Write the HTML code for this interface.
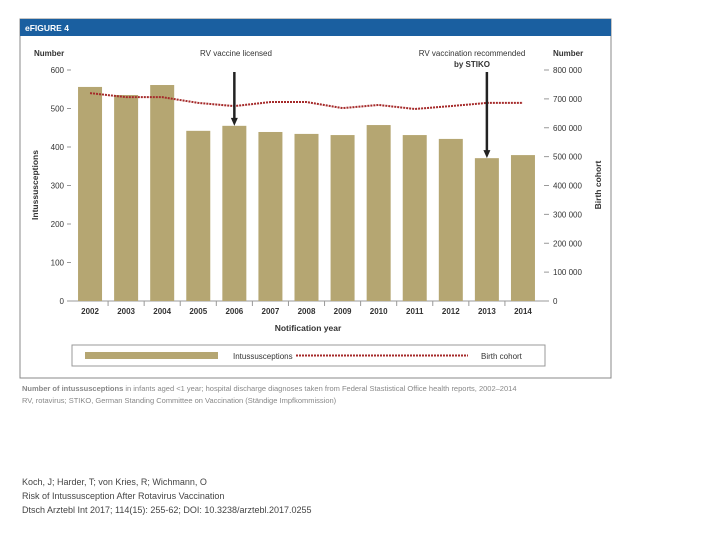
<!DOCTYPE html>
<html><head><meta charset="utf-8"><style>
body{margin:0;background:#fff;width:720px;height:540px;overflow:hidden;font-family:"Liberation Sans",sans-serif}
.cite{position:absolute;left:22px;font-size:9px;color:#444;font-family:"Liberation Sans",sans-serif}
</style></head><body>
<svg width="720" height="540" style="position:absolute;left:0;top:0">
<rect x="20" y="19" width="591" height="359" fill="#fff" stroke="#888"/>
<rect x="20" y="19" width="591" height="17" fill="#1a5fa0"/>
<text x="25" y="31" font-size="8.5" font-weight="bold" fill="#fff">eFIGURE 4</text>
<g id="chart"></g>
<text x="34" y="56" font-size="8" font-weight="bold" fill="#333">Number</text>
<text x="553" y="56" font-size="8" font-weight="bold" fill="#333">Number</text>
<text x="236" y="56" font-size="8" fill="#333" text-anchor="middle">RV vaccine licensed</text>
<text x="472" y="56" font-size="8" fill="#333" text-anchor="middle">RV vaccination recommended</text>
<text x="472" y="67" font-size="8" font-weight="bold" fill="#333" text-anchor="middle">by STIKO</text>
<text x="38" y="185" font-size="8.5" font-weight="bold" fill="#333" text-anchor="middle" transform="rotate(-90 38 185)">Intussusceptions</text>
<text x="601" y="185" font-size="8.5" font-weight="bold" fill="#333" text-anchor="middle" transform="rotate(-90 601 185)">Birth cohort</text>
<text x="308" y="331" font-size="8.5" font-weight="bold" fill="#333" text-anchor="middle">Notification year</text>
<rect x="72" y="345" width="473" height="21" fill="#fff" stroke="#999"/>
<rect x="85" y="352" width="133" height="7" fill="#b5a672"/>
<text x="233" y="359" font-size="8" fill="#333">Intussusceptions</text>
<line x1="296" y1="355.5" x2="468" y2="355.5" stroke="#a52a2a" stroke-width="2" stroke-dasharray="2,1"/>
<text x="481" y="359" font-size="8" fill="#333">Birth cohort</text>
<text x="22" y="391" font-size="7.5" fill="#888"><tspan font-weight="bold">Number of intussusceptions</tspan> in infants aged &lt;1 year; hospital discharge diagnoses taken from Federal Stastistical Office health reports, 2002–2014</text>
<text x="22" y="403" font-size="7.5" fill="#888">RV, rotavirus; STIKO, German Standing Committee on Vaccination (Ständige Impfkommission)</text>
</svg>
<div class="cite" style="top:477px">Koch, J; Harder, T; von Kries, R; Wichmann, O</div>
<div class="cite" style="top:491px">Risk of Intussusception After Rotavirus Vaccination</div>
<div class="cite" style="top:505px">Dtsch Arztebl Int 2017; 114(15): 255-62; DOI: 10.3238/arztebl.2017.0255</div>
<script>
const years=["2002","2003","2004","2005","2006","2007","2008","2009","2010","2011","2012","2013","2014"];
const intussusceptions=[556,535,561,442,455,439,434,431,457,431,421,371,379];
const birthCohort=[720000,706000,706000,686000,675000,689000,689000,668000,679000,665000,675000,686000,686000];
const leftTicks=[0,100,200,300,400,500,600];
const rightTicks=[0,100000,200000,300000,400000,500000,600000,700000,800000];
const rightLabels=["0","100 000","200 000","300 000","400 000","500 000","600 000","700 000","800 000"];
const arrowYears=["2006","2013"];
const NS="http://www.w3.org/2000/svg";
const g=document.getElementById('chart');
const X0=72,X1=541,Y0=301,Y1=70;
const step=(X1-X0)/years.length;
const xc=i=>X0+step*(i+0.5);
const yl=v=>Y0-(v/600)*(Y0-Y1);
const yr=v=>Y0-(v/800000)*(Y0-Y1);
function mk(t,a){const e=document.createElementNS(NS,t);for(const k in a)e.setAttribute(k,a[k]);g.appendChild(e);return e;}
let ax=mk('line',{x1:X0-2,y1:Y0,x2:X1+4,y2:Y0,stroke:'#999'});


leftTicks.forEach(v=>{
 const t=mk('line',{x1:X0-5,x2:X0-1,y1:yl(v),y2:yl(v),stroke:'#999'});
 
 
 const l=mk('text',{x:X0-8,y:yl(v)+3,'font-size':8,fill:'#333','text-anchor':'end'});l.textContent=v;
 
 
});
rightTicks.forEach((v,i)=>{
 const t=mk('line',{x1:X1+3,x2:X1+8,y1:yr(v),y2:yr(v),stroke:'#999'});
 
 
 const l=mk('text',{x:X1+12,y:yr(v)+3,'font-size':8,fill:'#333'});l.textContent=rightLabels[i];
 
 
});
years.forEach((y,i)=>{
 const b=mk('rect',{x:xc(i)-12,y:yl(intussusceptions[i]),width:24,height:Y0-yl(intussusceptions[i]),fill:'#b5a672'});
 
 
 const l=mk('text',{x:xc(i),y:Y0+13,'font-size':8,'font-weight':'bold',fill:'#333','text-anchor':'middle'});l.textContent=y;
 
 
 if(i>0){const t=mk('line',{x1:X0+step*i,x2:X0+step*i,y1:Y0,y2:Y0+5,stroke:'#999'});
 
 }
});
const line=mk('polyline',{points:birthCohort.map((v,i)=>xc(i)+','+yr(v)).join(' '),fill:'none',stroke:'#a52a2a','stroke-width':2,'stroke-dasharray':'2,1'});


arrowYears.forEach(y=>{
 const i=years.indexOf(y),x=xc(i),yt=yl(intussusceptions[i]);
 const a=mk('line',{x1:x,y1:72,x2:x,y2:yt-6,stroke:'#222','stroke-width':2.5});
 
 
 const h=mk('polygon',{points:`${x-3.5},${yt-8} ${x+3.5},${yt-8} ${x},${yt}`,fill:'#222'});
 
 
});
</script>
</body></html>
